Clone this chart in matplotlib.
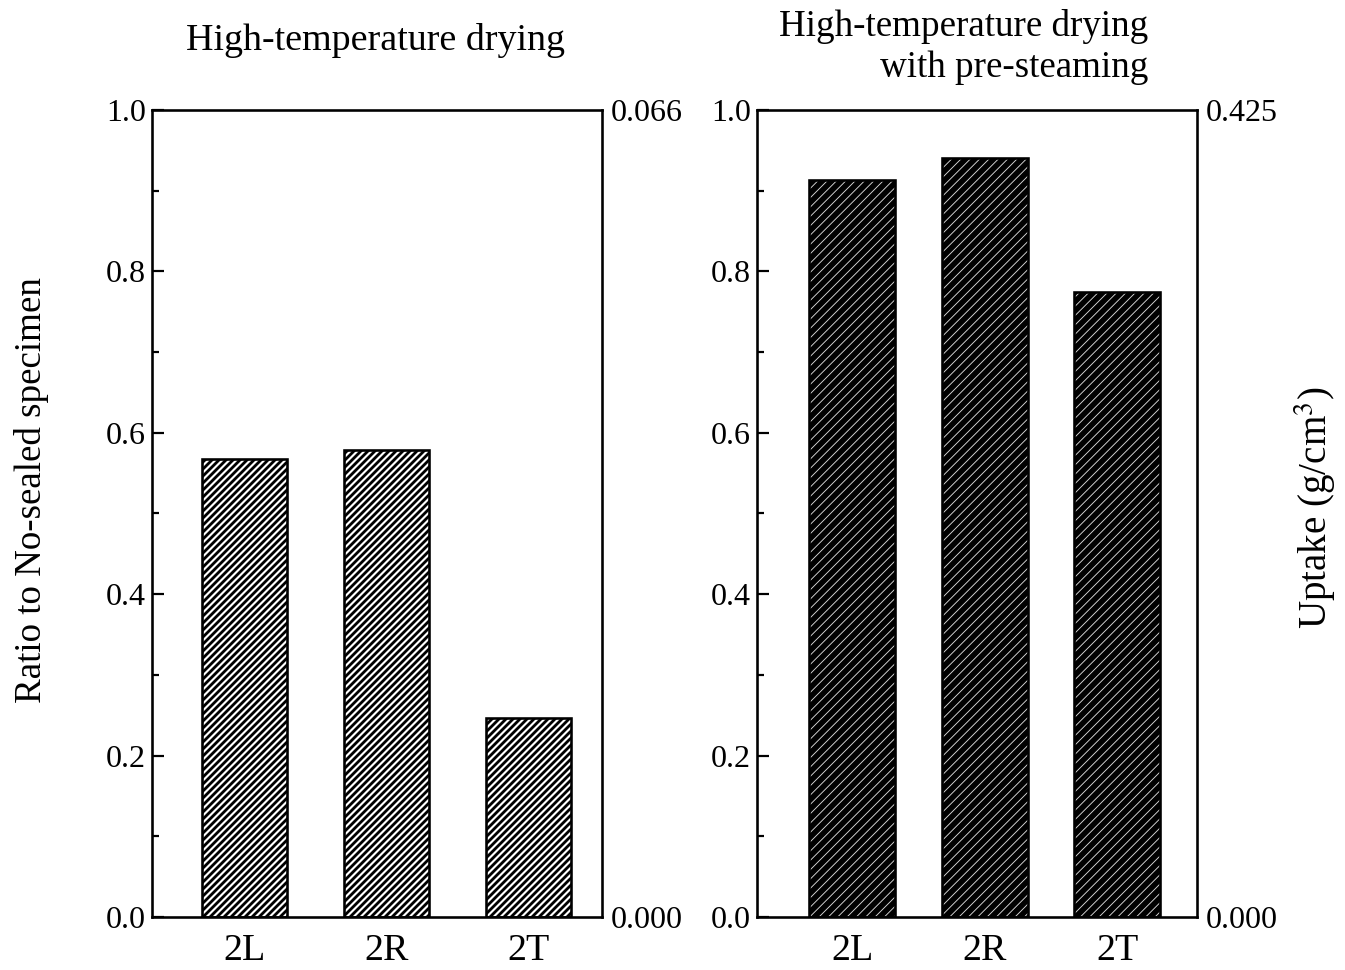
import matplotlib
matplotlib.use("Agg")
import matplotlib.pyplot as plt
from matplotlib.ticker import MultipleLocator, FixedLocator

categories = ["2L", "2R", "2T"]
ratio_htd = [0.567, 0.579, 0.247]
ratio_steam = [0.913, 0.940, 0.774]
uptake_max_htd = 0.066
uptake_max_steam = 0.425
titles = ["High-temperature drying", "High-temperature drying", "with pre-steaming"]
ylabel_left = "Ratio to No-sealed specimen"
ylabel_right = "Uptake (g/cm$^{3}$)"

DPI = 84
W, H = 1345, 970


def pt(px):
    # pixel size -> points at this dpi
    return px * 72.0 / DPI


plt.rcParams["font.family"] = ["Liberation Serif", "DejaVu Serif"]
plt.rcParams["mathtext.fontset"] = "stix"

fig = plt.figure(figsize=(W / DPI, H / DPI), dpi=DPI)


def fx(x):
    return x / W


def fy(y):
    return 1 - y / H


def make_axes(left, right, top, bottom, xlim, vals, width, dark, umax):
    ax = fig.add_axes([fx(left), fy(bottom), fx(right - left), (bottom - top) / H])
    x = list(range(len(categories)))
    if dark:
        plt.rcParams["hatch.linewidth"] = pt(0.9)
        b = ax.bar(x, vals, width, facecolor="black", edgecolor="#d8d8d8",
                   hatch="///", linewidth=0, zorder=2)
    else:
        plt.rcParams["hatch.linewidth"] = pt(2.8)
        b = ax.bar(x, vals, width, facecolor="white", edgecolor="black",
                   hatch="////", linewidth=0, zorder=2)
    for p in b:
        if hasattr(p, "set_hatch_linewidth"):
            p.set_hatch_linewidth(plt.rcParams["hatch.linewidth"])
    ax.bar(x, vals, width, fill=False, edgecolor="black", linewidth=pt(2.6), zorder=3)

    ax.set_xlim(*xlim)
    ax.set_ylim(0, 1)
    ax.set_xticks(x)
    ax.set_xticklabels(categories, fontsize=pt(38))
    ax.tick_params(axis="x", length=0, pad=pt(17))
    ax.yaxis.set_major_locator(MultipleLocator(0.2))
    ax.yaxis.set_minor_locator(MultipleLocator(0.1))
    ax.yaxis.set_major_formatter(matplotlib.ticker.FormatStrFormatter("%.1f"))
    ax.tick_params(axis="y", which="major", direction="in", left=True, right=True,
                   length=pt(12), width=pt(2.2), labelsize=pt(32), pad=pt(6))
    ax.tick_params(axis="y", which="minor", direction="in", left=True, right=True,
                   length=pt(7), width=pt(2.2))
    for s in ax.spines.values():
        s.set_linewidth(pt(2.6))

    ax2 = ax.twinx()
    ax2.set_ylim(0, umax)
    ax2.yaxis.set_major_locator(FixedLocator([0, umax]))
    ax2.yaxis.set_major_formatter(matplotlib.ticker.FormatStrFormatter("%.3f"))
    ax2.tick_params(axis="y", length=0, labelsize=pt(32), pad=pt(9))
    for s in ax2.spines.values():
        s.set_visible(False)
    return ax


make_axes(152, 602, 110, 917, (-0.651, 2.518), ratio_htd, 0.6, False, uptake_max_htd)
make_axes(757, 1197, 110, 917, (-0.716, 2.599), ratio_steam, 0.648, True, uptake_max_steam)

fig.text(fx(376), fy(40), titles[0], ha="center", va="center", fontsize=pt(38))
fig.text(fx(1148), fy(27), titles[1], ha="right", va="center", fontsize=pt(37))
fig.text(fx(1148), fy(68), titles[2], ha="right", va="center", fontsize=pt(37))

fig.text(fx(32), fy(490), ylabel_left, rotation=90, ha="center", va="center", fontsize=pt(37))
fig.text(fx(1315), fy(508), ylabel_right, rotation=90, ha="center", va="center", fontsize=pt(39))

fig.savefig("out.png", dpi=DPI)
